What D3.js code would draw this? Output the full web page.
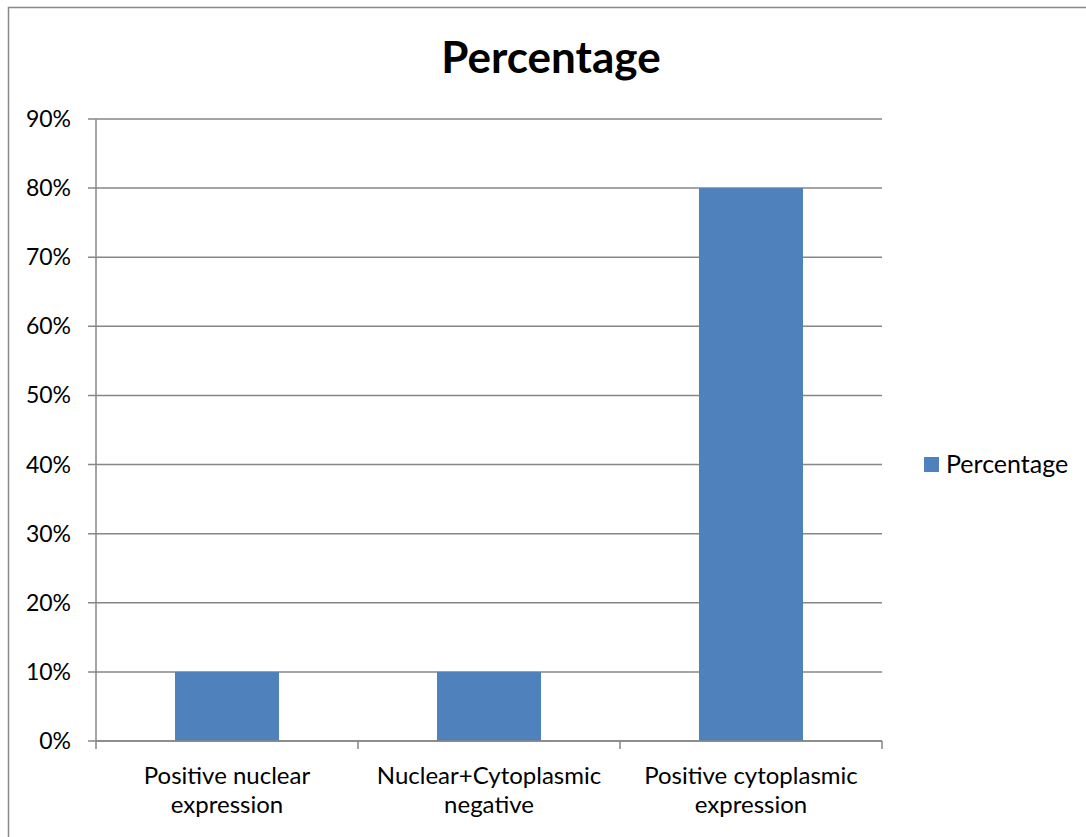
<!DOCTYPE html>
<html>
<head>
<meta charset="utf-8">
<script src="https://cdn.jsdelivr.net/npm/d3@7"></script>
<style>
  html, body { margin: 0; padding: 0; background: #fff; }
  svg { display: block; font-family: Lato, "Open Sans", sans-serif; }
</style>
</head>
<body>
<svg id="chart" width="1086" height="837"></svg>
<script>
const categories = [
  ["Positive nuclear", "expression"],
  ["Nuclear+Cytoplasmic", "negative"],
  ["Positive cytoplasmic", "expression"]
];
const values = [0.10, 0.10, 0.80];
const yTicks = [0, 0.1, 0.2, 0.3, 0.4, 0.5, 0.6, 0.7, 0.8, 0.9];
const seriesName = "Percentage";
const titleText = "Percentage";

const svg = d3.select("#chart");
const barColor = "#4F81BD";
const gridColor = "#868686";

// outer chart frame
svg.append("rect")
  .attr("x", 8.5).attr("y", 7.5)
  .attr("width", 1200).attr("height", 1000)
  .attr("fill", "none").attr("stroke", "#888").attr("stroke-width", 1.5);

const plot = { left: 96, right: 882, top: 119, bottom: 741 };

const x = d3.scaleBand()
  .domain(d3.range(categories.length))
  .range([plot.left, plot.right])
  .paddingInner(0.603).paddingOuter(0.3015);

const y = d3.scaleLinear().domain([0, 0.9]).range([plot.bottom, plot.top]);

// horizontal gridlines
svg.append("g").selectAll("line").data(yTicks).join("line")
  .attr("x1", plot.left - 8).attr("x2", plot.right)
  .attr("y1", d => y(d)).attr("y2", d => y(d))
  .attr("stroke", gridColor).attr("stroke-width", 1.5);

// y-axis line
svg.append("line")
  .attr("x1", plot.left).attr("x2", plot.left)
  .attr("y1", plot.top).attr("y2", plot.bottom)
  .attr("stroke", gridColor).attr("stroke-width", 1.5);

// y tick labels
svg.append("g").selectAll("text").data(yTicks).join("text")
  .attr("x", 71).attr("y", d => y(d) + 8)
  .attr("text-anchor", "end")
  .attr("font-size", 23).attr("fill", "#000")
  .text(d => d3.format(".0%")(d));

// bars
svg.append("g").selectAll("rect").data(values).join("rect")
  .attr("x", (d, i) => x(i))
  .attr("width", x.bandwidth())
  .attr("y", d => y(d))
  .attr("height", d => y(0) - y(d))
  .attr("fill", barColor);

// x-axis baseline and category dividers
svg.append("line")
  .attr("x1", plot.left).attr("x2", plot.right)
  .attr("y1", plot.bottom).attr("y2", plot.bottom)
  .attr("stroke", gridColor).attr("stroke-width", 1.5);
svg.append("g").selectAll("line").data(d3.range(categories.length + 1)).join("line")
  .attr("x1", i => plot.left + i * (plot.right - plot.left) / categories.length)
  .attr("x2", i => plot.left + i * (plot.right - plot.left) / categories.length)
  .attr("y1", plot.bottom).attr("y2", plot.bottom + 8)
  .attr("stroke", gridColor).attr("stroke-width", 1.5);

// category labels
const lab = svg.append("g").selectAll("text").data(categories).join("text")
  .attr("text-anchor", "middle")
  .attr("font-size", 24).attr("fill", "#000");
lab.selectAll("tspan").data((d, i) => d.map(t => ({ t, i }))).join("tspan")
  .attr("x", d => x(d.i) + x.bandwidth() / 2)
  .attr("y", (d, j) => 784 + j * 29)
  .text(d => d.t);

// title
svg.append("text")
  .attr("x", 551).attr("y", 73)
  .attr("text-anchor", "middle")
  .attr("font-size", 44).attr("font-weight", "bold").attr("fill", "#000")
  .text(titleText);

// legend
svg.append("rect").attr("x", 924).attr("y", 457).attr("width", 15).attr("height", 15).attr("fill", barColor);
svg.append("text").attr("x", 946).attr("y", 473)
  .attr("font-size", 25).attr("fill", "#000").text(seriesName);
</script>
</body>
</html>
